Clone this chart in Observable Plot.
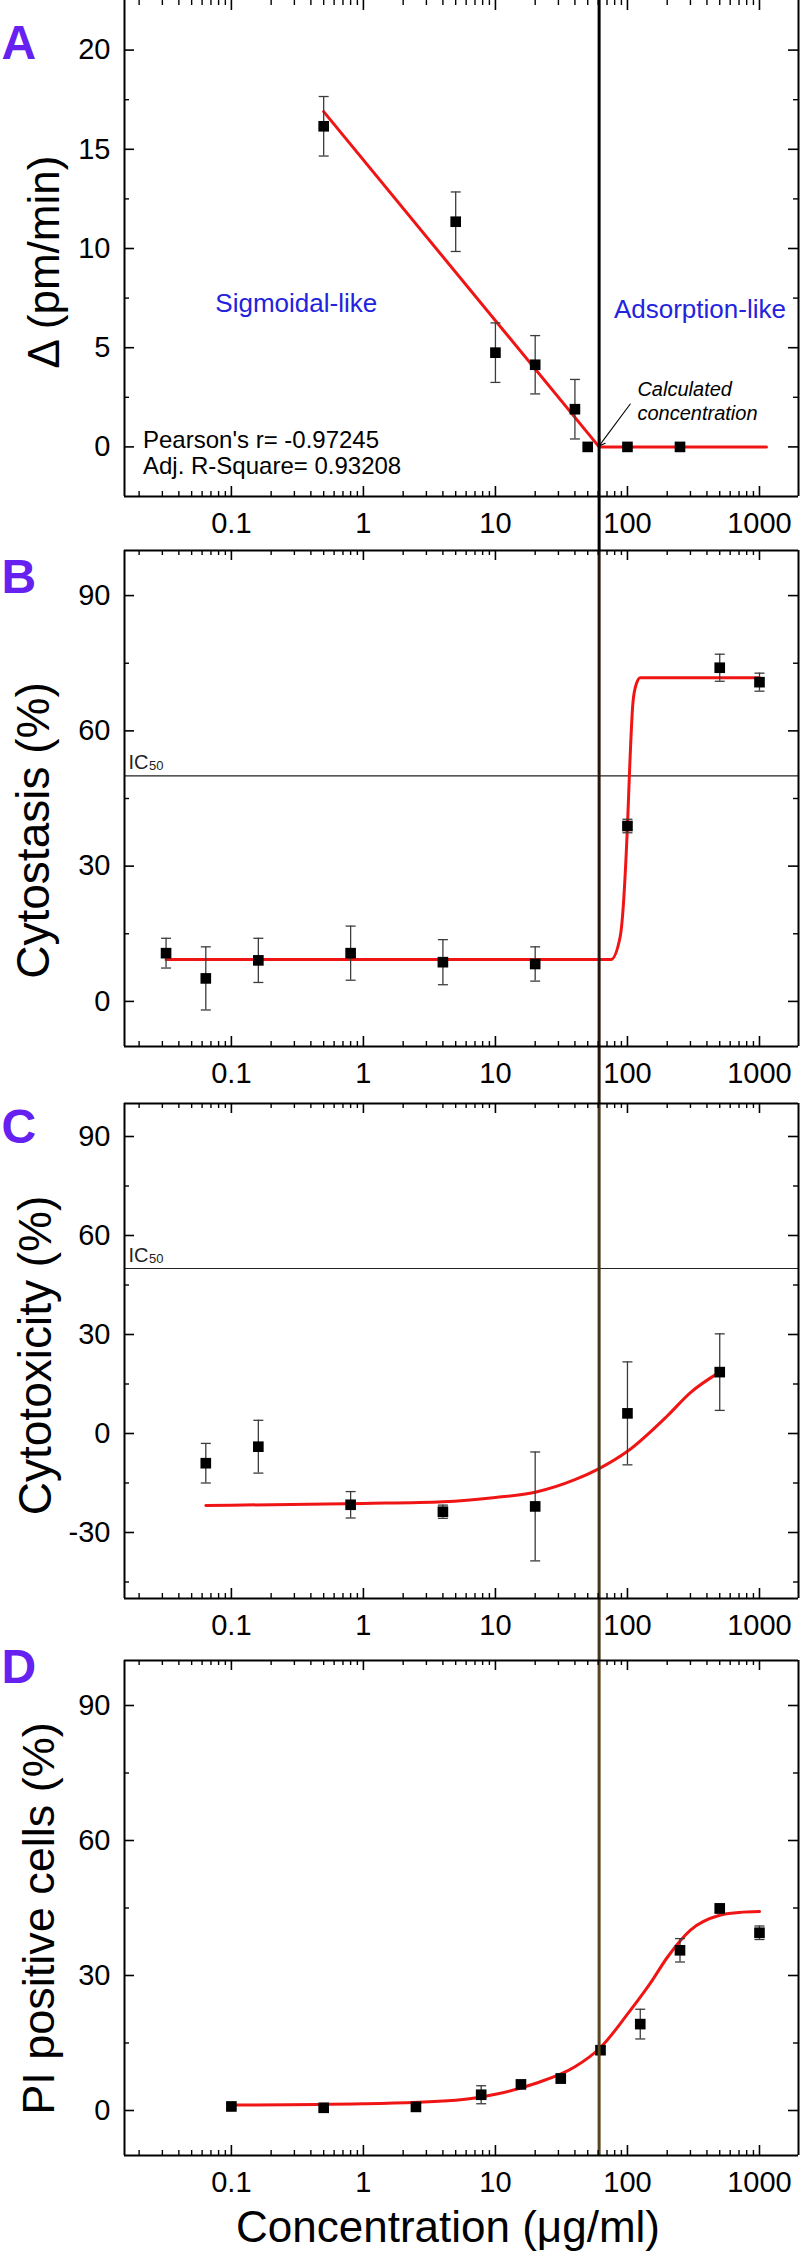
<!DOCTYPE html>
<html><head><meta charset="utf-8">
<script src="https://cdn.jsdelivr.net/npm/d3@7"></script>
<script src="https://cdn.jsdelivr.net/npm/@observablehq/plot@0.6"></script>
<style>
body{margin:0;background:#fff;}
#fig{position:relative;width:800px;height:2255px;overflow:hidden;background:#fff;}
#fig svg{position:absolute;left:0;overflow:visible;}
</style></head><body><div id="fig"></div>
<script>
// ---------- shared x axis ----------
const xDomain = [0.0155, 1975];
const xMajor = [0.1, 1, 10, 100, 1000];
const xMajorLabels = ["0.1", "1", "10", "100", "1000"];
const calcConc = 61; // calculated concentration (vertical line)

// ---------- Panel A : Δ (pm/min) ----------
const aConc  = [0.5, 5, 10, 20, 40, 50, 100, 250];
const aDelta = [16.16, 11.35, 4.75, 4.14, 1.9, 0.0, 0.0, 0.0];
const aErr   = [1.5, 1.5, 1.5, 1.47, 1.5, 0, 0, 0];
const aFitConc  = [0.5, 61, 1130];
const aFitDelta = [16.9, 0, 0];
const aYTicks = [0, 5, 10, 15, 20];
const aYMinor = [2.5, 7.5, 12.5, 17.5];

// ---------- Panel B : Cytostasis (%) ----------
const bConc = [0.032, 0.064, 0.16, 0.8, 4, 20, 100, 500, 1000];
const bCyto = [10.7, 5.1, 9.1, 10.7, 8.7, 8.3, 38.9, 74.0, 70.8];
const bErr  = [3.3, 7.0, 4.9, 6.0, 5.0, 3.8, 1.5, 3.0, 2.0];
const bFitConc = [0.032, 75, 88, 100, 104, 110, 117, 125, 1000];
const bFitCyto = [9.3, 9.3, 14.3, 38.9, 52, 66.2, 70.5, 71.8, 71.8];

// ---------- Panel C : Cytotoxicity (%) ----------
const cConc = [0.064, 0.16, 0.8, 4, 20, 100, 500];
const cTox  = [-9.0, -4.0, -21.6, -23.7, -22.1, 6.1, 18.6];
const cErr  = [6.0, 8.0, 4.0, 2.0, 16.5, 15.6, 11.6];
const cFitConc = [0.064, 1, 4, 10, 20, 40, 60, 100, 200, 300, 500];
const cFitTox  = [-21.8, -21.2, -20.7, -19.4, -17.8, -14.0, -10.8, -5.4, 5.3, 12.4, 18.6];

// ---------- Panel D : PI positive cells (%) ----------
const dConc = [0.1, 0.5, 2.5, 7.8, 15.6, 31.25, 62.5, 125, 250, 500, 1000];
const dPI   = [0.9, 0.6, 0.8, 3.5, 5.8, 7.1, 13.4, 19.2, 35.6, 44.9, 39.5];
const dErr  = [0.5, 0.5, 0.4, 2.0, 0.8, 1.0, 0.8, 3.3, 2.6, 1.0, 1.5];
const dFitConc = [0.1, 1, 5, 10, 20, 40, 62.5, 100, 150, 200, 300, 500, 700, 1000];
const dFitPI   = [1.2, 1.5, 2.3, 3.6, 6.0, 9.7, 14.0, 21.4, 28.4, 34.0, 40.1, 43.4, 44.0, 44.2];

const pctTicks = [0, 30, 60, 90];
const pctMinor = [15, 45, 75];
const cYTicks = [-30, 0, 30, 60, 90];
const cYMinor = [-45, -15, 15, 45, 75];

// ---------- helpers ----------
const FONT = '"Liberation Sans", Arial, Helvetica, sans-serif';
const RED = "#f01515";
const LETTER = "#6621f0";
const zip = (xs, ys, es) => xs.map((x, i) => ({x, y: ys[i], e: es ? es[i] : 0}));
const xMinor = [];
for (let k = -2; k <= 3; k++) for (let m = 2; m <= 9; m++) {
  const v = m * Math.pow(10, k);
  if (v > xDomain[0] && v < xDomain[1]) xMinor.push(v);
}
const capSymbol = {draw(ctx, size) { const h = Math.sqrt(size / Math.PI); ctx.moveTo(-h, 0); ctx.lineTo(h, 0); }};
const fig = document.getElementById("fig");

function errorMarks(pts) {
  const e = pts.filter(d => d.e > 0);
  return [
    Plot.ruleX(e, {x: "x", y1: d => d.y - d.e, y2: d => d.y + d.e, stroke: "#3c3c3c", strokeWidth: 1.3}),
    Plot.dot(e, {x: "x", y: d => d.y + d.e, symbol: capSymbol, r: 5, stroke: "#3c3c3c", strokeWidth: 1.3, fill: "none"}),
    Plot.dot(e, {x: "x", y: d => d.y - d.e, symbol: capSymbol, r: 5, stroke: "#3c3c3c", strokeWidth: 1.3, fill: "none"})
  ];
}

function panel(cfg) {
  const {top, bottom, yDomain, yTicks, yMinor, drawTop = true, lineColor, lineTop = 0, lineBottom = 0,
         letter, letterDy, title, titleX, titleDy, titleSize, marks} = cfg;
  const FH = bottom - top, FW = 674, MT = 12, MB = 70;
  const tickMarks = [
    Plot.ruleY(yTicks, {y: d => d, insetRight: FW - 10, strokeWidth: 1.6}),
    Plot.ruleY(yTicks, {y: d => d, insetLeft: FW - 10, strokeWidth: 1.6}),
    Plot.ruleY(yMinor, {y: d => d, insetRight: FW - 5, strokeWidth: 1.4}),
    Plot.ruleY(yMinor, {y: d => d, insetLeft: FW - 5, strokeWidth: 1.4}),
    Plot.ruleX(xMajor, {x: d => d, insetTop: FH - 10, strokeWidth: 1.6}),
    Plot.ruleX(xMajor, {x: d => d, insetBottom: FH - 10, strokeWidth: 1.6}),
    Plot.ruleX(xMinor, {x: d => d, insetTop: FH - 5, strokeWidth: 1.4}),
    Plot.ruleX(xMinor, {x: d => d, insetBottom: FH - 5, strokeWidth: 1.4})
  ];
  const frameMarks = [
    Plot.ruleX([xDomain[0], xDomain[1]], {x: d => d, strokeWidth: 2}),
    Plot.ruleY([yDomain[0]], {y: d => d, strokeWidth: 2})
  ];
  if (drawTop) frameMarks.push(Plot.ruleY([yDomain[1]], {y: d => d, strokeWidth: 2}));
  const svg = Plot.plot({
    width: 800, height: MT + FH + MB,
    marginLeft: 124, marginRight: 2, marginTop: MT, marginBottom: MB,
    x: {type: "log", domain: xDomain, axis: null, label: null},
    y: {domain: yDomain, axis: null, label: null},
    style: {fontFamily: FONT, background: "transparent", color: "black", overflow: "visible"},
    marks: [
      ...marks,
      Plot.ruleX([calcConc], {x: d => d, stroke: lineColor, strokeWidth: 3, insetTop: -lineTop, insetBottom: -lineBottom}),
      ...frameMarks,
      ...tickMarks,
      Plot.axisY(yTicks, {anchor: "left", label: null, tickSize: 0, tickPadding: 14, fontSize: 29, tickFormat: d => String(d)}),
      Plot.axisX(xMajor, {anchor: "bottom", label: null, tickSize: 0, tickPadding: 16, fontSize: 29, tickFormat: d => xMajorLabels[xMajor.indexOf(d)]}),
      Plot.text([letter], {frameAnchor: "top-left", dx: -123, dy: letterDy, text: d => d, textAnchor: "start", lineAnchor: "bottom", fontSize: 48, fontWeight: "bold", fill: LETTER}),
      Plot.text([title], {frameAnchor: "left", dx: titleX - 124, dy: titleDy, text: d => d, rotate: -90, textAnchor: "middle", lineAnchor: "bottom", fontSize: titleSize}),
      ...(cfg.extra || [])
    ]
  });
  svg.style.top = (top - MT) + "px";
  fig.appendChild(svg);
}

function ic50() {
  return [
    Plot.ruleY([50], {y: d => d, stroke: "#222", strokeWidth: 1.2}),
    Plot.text(["IC"], {x: xDomain[0], y: 50, dx: 4, dy: -7, text: d => d, textAnchor: "start", lineAnchor: "bottom", fontSize: 20, fill: "#222"}),
    Plot.text(["50"], {x: xDomain[0], y: 50, dx: 24.5, dy: -6, text: d => d, textAnchor: "start", lineAnchor: "bottom", fontSize: 13, fill: "#222"})
  ];
}

// ---------- Panel A ----------
const aPts = zip(aConc, aDelta, aErr);
panel({
  top: 0, bottom: 496, yDomain: [-2.5, 22.5], yTicks: aYTicks, yMinor: aYMinor, drawTop: false,
  lineColor: "#000", lineTop: 12, lineBottom: 55,
  letter: "A", letterDy: 58, title: "Δ (pm/min)", titleX: 58, titleDy: 13.5, titleSize: 44,
  marks: [
    Plot.line(zip(aFitConc, aFitDelta), {x: "x", y: "y", stroke: RED, strokeWidth: 3}),
    ...errorMarks(aPts),
    Plot.dot(aPts, {x: "x", y: "y", symbol: "square", r: 6, fill: "black"})
  ],
  extra: [
    Plot.text(["Sigmoidal-like"], {x: 0.31, y: 6.78, text: d => d, textAnchor: "middle", lineAnchor: "bottom", fontSize: 26, fill: "#2323dd"}),
    Plot.text(["Adsorption-like"], {x: 354, y: 6.48, text: d => d, textAnchor: "middle", lineAnchor: "bottom", fontSize: 26, fill: "#2323dd"}),
    Plot.text(["Calculated"], {x: 119, y: 2.56, text: d => d, textAnchor: "start", lineAnchor: "bottom", fontSize: 20, fontStyle: "italic"}),
    Plot.text(["concentration"], {x: 119, y: 1.35, text: d => d, textAnchor: "start", lineAnchor: "bottom", fontSize: 20, fontStyle: "italic"}),
    Plot.arrow([{x1: 105, y1: 2.16, x2: calcConc, y2: 0.05}], {x1: "x1", y1: "y1", x2: "x2", y2: "y2", headLength: 9, strokeWidth: 1.1, stroke: "black"}),
    Plot.text(["Pearson's r= -0.97245"], {x: 0.0214, y: -0.05, text: d => d, textAnchor: "start", lineAnchor: "bottom", fontSize: 24}),
    Plot.text(["Adj. R-Square= 0.93208"], {x: 0.0214, y: -1.39, text: d => d, textAnchor: "start", lineAnchor: "bottom", fontSize: 24})
  ]
});

// ---------- Panel B ----------
const bPts = zip(bConc, bCyto, bErr);
panel({
  top: 550, bottom: 1046, yDomain: [-10, 100], yTicks: pctTicks, yMinor: pctMinor,
  lineColor: "#24180a", lineBottom: 57,
  letter: "B", letterDy: 42, title: "Cytostasis (%)", titleX: 48, titleDy: 32, titleSize: 46,
  marks: [
    ...ic50(),
    Plot.line(zip(bFitConc, bFitCyto), {x: "x", y: "y", stroke: RED, strokeWidth: 3, curve: "monotone-x"}),
    ...errorMarks(bPts),
    Plot.dot(bPts, {x: "x", y: "y", symbol: "square", r: 6, fill: "black"})
  ]
});

// ---------- Panel C ----------
const cPts = zip(cConc, cTox, cErr);
panel({
  top: 1103, bottom: 1598, yDomain: [-50, 100], yTicks: cYTicks, yMinor: cYMinor,
  lineColor: "#46351a", lineBottom: 62,
  letter: "C", letterDy: 39, title: "Cytotoxicity (%)", titleX: 50, titleDy: 4.5, titleSize: 46,
  marks: [
    ...ic50(),
    Plot.line(zip(cFitConc, cFitTox), {x: "x", y: "y", stroke: RED, strokeWidth: 3, curve: "monotone-x"}),
    ...errorMarks(cPts),
    Plot.dot(cPts, {x: "x", y: "y", symbol: "square", r: 6, fill: "black"})
  ]
});

// ---------- Panel D ----------
const dPts = zip(dConc, dPI, dErr);
panel({
  top: 1660, bottom: 2155, yDomain: [-10, 100], yTicks: pctTicks, yMinor: pctMinor,
  lineColor: "#5a4520", lineBottom: 0,
  letter: "D", letterDy: 22, title: "PI positive cells (%)", titleX: 53, titleDy: 10.5, titleSize: 45,
  marks: [
    Plot.line(zip(dFitConc, dFitPI), {x: "x", y: "y", stroke: RED, strokeWidth: 3, curve: "monotone-x"}),
    ...errorMarks(dPts),
    Plot.dot(dPts, {x: "x", y: "y", symbol: "square", r: 6, fill: "black"})
  ],
  extra: [
    Plot.text(["Concentration (μg/ml)"], {frameAnchor: "bottom", dx: 447.5 - 461, dy: 86, text: d => d, textAnchor: "middle", lineAnchor: "bottom", fontSize: 44})
  ]
});
</script></body></html>
